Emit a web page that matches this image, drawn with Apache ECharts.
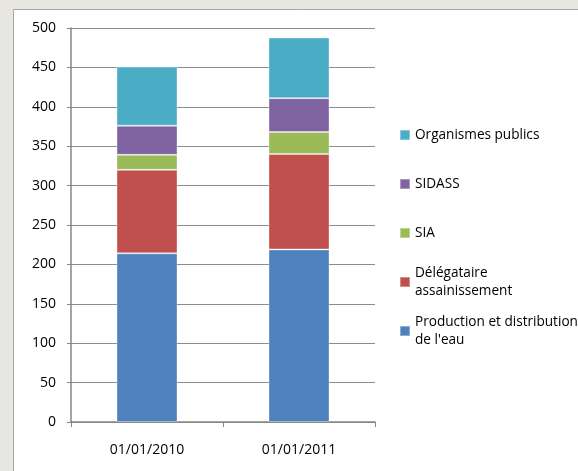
<!DOCTYPE html>
<html>
<head>
<meta charset="utf-8">
<script src="https://cdn.jsdelivr.net/npm/echarts@6/dist/echarts.min.js"></script>
<style>
  html, body { margin: 0; padding: 0; background: #e8e6e1; }
  #chart { width: 578px; height: 471px; }
</style>
</head>
<body>
<div id="chart"></div>
<script>
const categories = ["01/01/2010", "01/01/2011"];
const seriesNames = [
  "Production et distribution\nde l'eau",
  "Délégataire\nassainissement",
  "SIA",
  "SIDASS",
  "Organismes publics",
];
const production = [214, 219];
const delegataire = [106, 121];
const sia = [19, 28];
const sidass = [37, 43];
const organismes = [75, 77];
const yTicks = [0, 50, 100, 150, 200, 250, 300, 350, 400, 450, 500];

const seriesData = [production, delegataire, sia, sidass, organismes];
const colors = ["#4f81bd", "#c0504d", "#9bbb59", "#8064a2", "#4bacc6"];

// icon centre y for each legend entry
const legendCentres = [331, 282, 233, 184, 135];
const lineH = 18;

const font = "'Open Sans', 'Liberation Sans', sans-serif";

const legends = seriesNames.map((name, i) => {
  const twoLines = name.includes("\n");
  const boxH = twoLines ? lineH * 3 : lineH;
  return {
    data: [name],
    orient: "vertical",
    left: 399,
    top: legendCentres[i] - boxH / 2,
    padding: 0,
    itemWidth: 10,
    itemHeight: 10,
    icon: "rect",
    selectedMode: false,
    textStyle: {
      fontFamily: font,
      fontSize: 13.6,
      color: "#000",
      lineHeight: lineH,
      padding: twoLines ? [lineH, 0, 0, 0] : 0,
    },
  };
});

const chart = echarts.init(document.getElementById("chart"));
chart.setOption({
  animation: false,
  backgroundColor: "#e8e6e1",
  graphic: [
    {
      type: "rect",
      z: -10,
      silent: true,
      shape: { x: 13.5, y: 9.5, width: 600, height: 500 },
      style: { fill: "#ffffff", stroke: "#a6a6a6", lineWidth: 1 },
    },
  ],
  grid: { left: 71, right: 203, top: 28, bottom: 49 },
  legend: legends,
  xAxis: {
    type: "category",
    data: categories,
    axisLine: { lineStyle: { color: "#868686", width: 1.5 } },
    axisTick: { show: true, length: 5, lineStyle: { color: "#868686" } },
    axisLabel: {
      color: "#000",
      fontFamily: font,
      fontSize: 14,
      margin: 21,
    },
  },
  yAxis: {
    type: "value",
    min: 0,
    max: 500,
    interval: 50,
    axisLine: { show: true, lineStyle: { color: "#868686", width: 1.5 } },
    axisTick: { show: true, length: 4, lineStyle: { color: "#868686" } },
    axisLabel: {
      color: "#000",
      fontFamily: font,
      fontSize: 14,
      margin: 15,
      formatter: (v) => (yTicks.includes(v) ? String(v) : ""),
    },
    splitLine: { lineStyle: { color: "#8c8c8c", width: 1 } },
  },
  series: seriesData.map((data, i) => ({
    type: "bar",
    name: seriesNames[i],
    stack: "total",
    barWidth: 61,
    data,
    itemStyle: {
      color: colors[i],
      borderColor: "rgba(255,255,255,0.35)",
      borderWidth: 1,
    },
  })),
});
</script>
</body>
</html>
